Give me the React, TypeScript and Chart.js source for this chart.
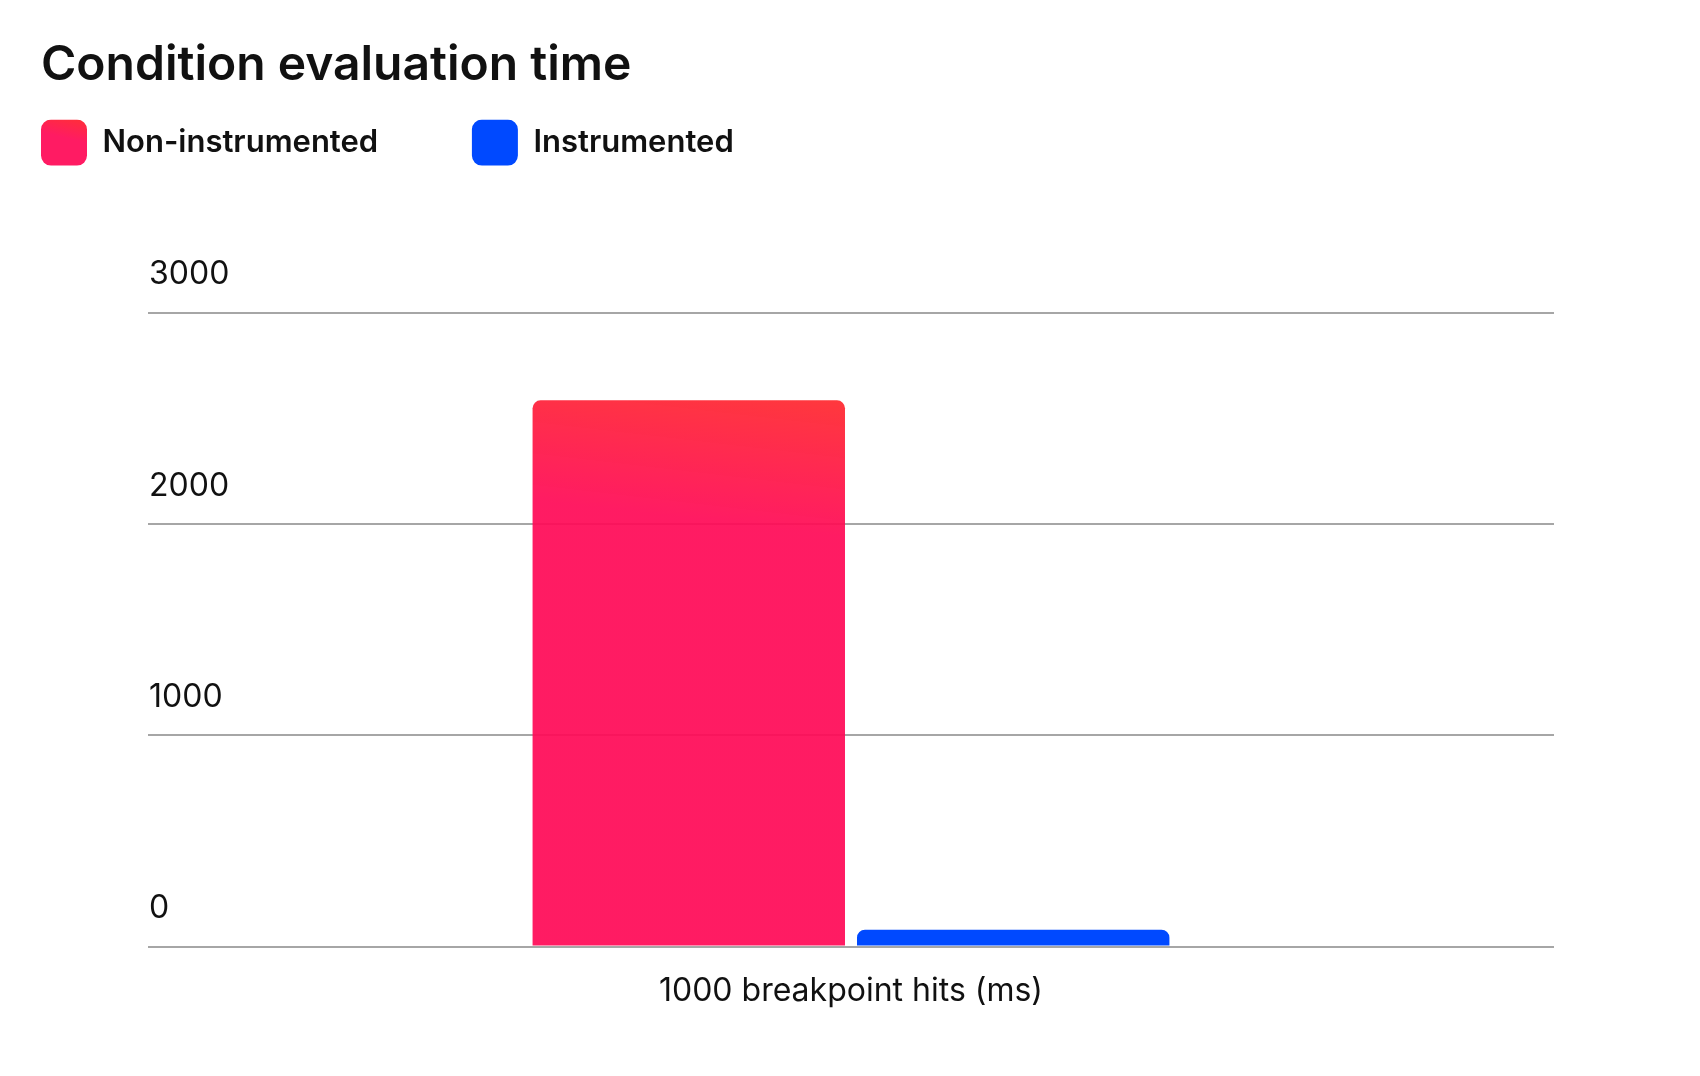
import React, { useEffect, useRef } from "react";
import { Chart, registerables } from "chart.js";

Chart.register(...registerables);

// data
const categories = ["1000 breakpoint hits (ms)"];
const seriesNames = ["Non-instrumented", "Instrumented"];
const nonInstrumented = [2585];
const instrumented = [80];
const yRange = [0, 3000];
const yStep = 1000;

const PINK = "rgba(255, 10, 87, 0.93)";
const PINK_SOLID = "#FF1B63";
const RED_TOP = "#FF3230";
const BLUE = "#0049FF";
const INK = "#111111";
const GRID = "#A6A6A6";
const FONT = "Inter, 'Noto Sans', sans-serif";

// legend: second box sits well to the right of the first label
const FIRST_LABEL_SLOT = 368;

const redFill = (ctx: any) => {
  const chart = ctx.chart;
  const { chartArea, scales } = chart;
  if (!chartArea || ctx.type !== "data") return PINK;
  const top = scales.y.getPixelForValue(ctx.raw as number);
  const cx = scales.x.getPixelForValue(ctx.dataIndex);
  const g = chart.ctx.createLinearGradient(cx, top - 20, cx - 18, top + 135);
  g.addColorStop(0, "rgba(255, 50, 44, 0.95)");
  g.addColorStop(1, PINK);
  return g;
};

const legendTint = {
  id: "legendTint",
  beforeDraw(chart: any) {
    const legend = chart.legend;
    if (!legend || !legend.legendItems || !legend.legendItems.length) return;
    const y0 = legend.top;
    const g = chart.ctx.createLinearGradient(legend.left + 46, y0 - 4, legend.left + 40, y0 + 22);
    g.addColorStop(0, RED_TOP);
    g.addColorStop(1, PINK_SOLID);
    legend.legendItems[0].fillStyle = g;
  },
};

const App: React.FC = () => {
  const canvasRef = useRef<HTMLCanvasElement>(null!);

  useEffect(() => {
    if (!canvasRef.current) return;

    const chart = new Chart(canvasRef.current, {
      type: "bar",
      data: {
        labels: categories,
        datasets: [
          {
            label: seriesNames[0],
            data: nonInstrumented,
            backgroundColor: redFill,
            borderRadius: 8,
            borderSkipped: "start",
          },
          {
            label: seriesNames[1],
            data: instrumented,
            backgroundColor: BLUE,
            borderRadius: 8,
            borderSkipped: "start",
          },
        ],
      },
      options: {
        animation: false,
        responsive: true,
        maintainAspectRatio: false,
        datasets: { bar: { categoryPercentage: 0.4615, barPercentage: 0.963 } },
        layout: { padding: { top: 0, left: 41, right: 146, bottom: 47 } },
        plugins: {
          title: {
            display: true,
            text: "Condition evaluation time",
            align: "start",
            color: INK,
            font: { family: FONT, size: 48, weight: 600 },
            padding: { top: 37, bottom: 25 },
          },
          legend: {
            position: "top",
            align: "start",
            labels: {
              boxWidth: 46,
              boxHeight: 46,
              useBorderRadius: true,
              borderRadius: 10,
              padding: 0,
              color: INK,
              font: { family: FONT, size: 31, weight: 600 },
              generateLabels: (c: any) => {
                const items = Chart.defaults.plugins.legend.labels.generateLabels(c);
                const ctx = c.ctx;
                ctx.save();
                ctx.font = `600 31px ${FONT}`;
                let text = items[0].text;
                while (ctx.measureText(text).width < FIRST_LABEL_SLOT) text += " ";
                ctx.restore();
                items[0].text = text;
                items[0].fillStyle = PINK_SOLID;
                items.forEach((it: any) => {
                  it.lineWidth = 0;
                  it.strokeStyle = "rgba(0,0,0,0)";
                });
                return items;
              },
            },
          },
          tooltip: { enabled: false },
        },
        scales: {
          x: {
            grid: { display: false },
            border: { display: false },
            ticks: {
              color: INK,
              font: { family: FONT, size: 32 },
              padding: 18,
              maxRotation: 0,
            },
          },
          topSpace: {
            type: "category",
            position: "top",
            grid: { display: false },
            border: { display: false },
            ticks: { display: false },
            afterFit: (s: any) => {
              s.height = 137;
            },
          },
          y: {
            min: yRange[0],
            max: yRange[1],
            border: { display: false },
            grid: { color: GRID, lineWidth: 2, drawTicks: false },
            ticks: {
              stepSize: yStep,
              mirror: true,
              padding: 1,
              labelOffset: -38,
              color: INK,
              font: { family: FONT, size: 32 },
              callback: (v: any) => String(v),
            },
            afterFit: (s: any) => {
              s.width = 107;
            },
          },
        },
      },
      plugins: [legendTint],
    });

    return () => {
      chart.destroy();
    };
  }, []);

  return (
    <div style={{ position: "fixed", left: 0, top: 0, width: 1700, height: 1076, background: "#ffffff" }}>
      <canvas ref={canvasRef}></canvas>
    </div>
  );
};

export default App;
